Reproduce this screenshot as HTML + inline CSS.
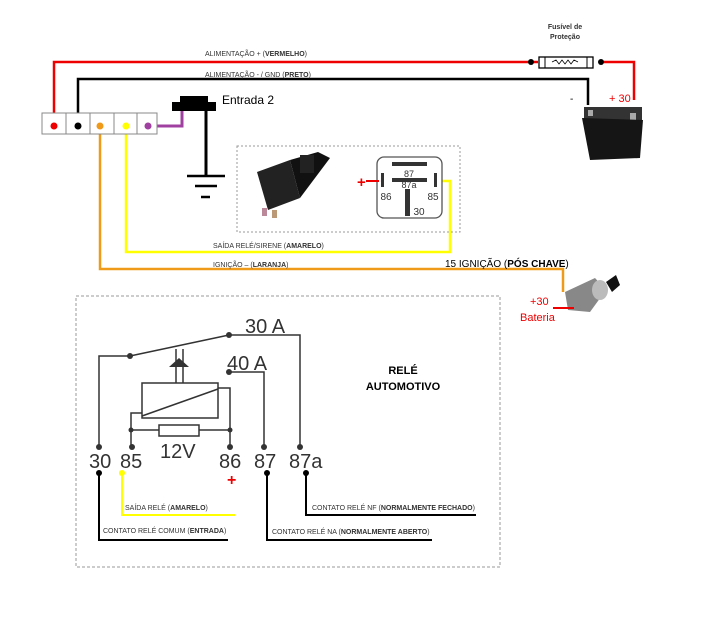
<!DOCTYPE html>
<html><head><meta charset="utf-8"><style>
html,body{margin:0;padding:0;background:#fff;}
svg{display:block;font-family:"Liberation Sans",sans-serif;}
</style></head><body>
<svg width="722" height="628" viewBox="0 0 722 628" xmlns="http://www.w3.org/2000/svg">
<!-- wires top -->
<polyline points="54,126 54,62 538,62" fill="none" stroke="#e00" stroke-width="2.5"/>
<polyline points="600,62 634,62 634,100" fill="none" stroke="#e00" stroke-width="2.5"/>
<polyline points="78,126 78,79 588,79 588,105" fill="none" stroke="#000" stroke-width="2.5"/>
<polyline points="126,126 126,252 450,252 450,181 440,181" fill="none" stroke="#ff0" stroke-width="2.5"/>
<polyline points="100,126 100,269 563,269 563,292" fill="none" stroke="#f09a1a" stroke-width="2.5"/>
<polyline points="148,126 182,126 182,108" fill="none" stroke="#a040a0" stroke-width="3"/>
<!-- fuse -->
<circle cx="531" cy="62" r="3" fill="#000"/><circle cx="601" cy="62" r="3" fill="#000"/>
<rect x="539" y="57" width="54" height="11" fill="#fff" stroke="#000" stroke-width="1.3"/>
<line x1="545" y1="57" x2="545" y2="68" stroke="#000"/><line x1="587" y1="57" x2="587" y2="68" stroke="#000"/>
<polyline points="552,62 556,60 559,64 562,60 565,64 568,60 571,64 574,60 578,62" fill="none" stroke="#000" stroke-width="0.8"/>
<text x="565" y="29" font-size="7" font-weight="bold" text-anchor="middle" fill="#333">Fusível de</text>
<text x="565" y="39" font-size="7" font-weight="bold" text-anchor="middle" fill="#333">Proteção</text>
<text x="205" y="56" font-size="7" fill="#333">ALIMENTAÇÃO + (<tspan font-weight="bold">VERMELHO</tspan>)</text>
<text x="205" y="77" font-size="7" fill="#333">ALIMENTAÇÃO - / GND (<tspan font-weight="bold">PRETO</tspan>)</text>
<!-- battery -->
<text x="570" y="102" font-size="10" fill="#000">-</text>
<text x="609" y="102" font-size="11" fill="#e00">+ 30</text>
<rect x="584" y="107" width="58" height="14" fill="#333"/>
<rect x="588" y="110" width="5" height="6" fill="#aaa"/><rect x="630" y="113" width="6" height="7" fill="#aaa"/>
<polygon points="582,118 643,120 640,158 590,160" fill="#151515"/>
<!-- connector block -->
<rect x="42" y="113" width="115" height="21" fill="#fff" stroke="#888"/>
<line x1="66" y1="113" x2="66" y2="134" stroke="#888"/><line x1="90" y1="113" x2="90" y2="134" stroke="#888"/>
<line x1="114" y1="113" x2="114" y2="134" stroke="#888"/><line x1="137" y1="113" x2="137" y2="134" stroke="#888"/>
<circle cx="54" cy="126" r="3.5" fill="#e00"/><circle cx="78" cy="126" r="3.5" fill="#000"/>
<circle cx="100" cy="126" r="3.5" fill="#f09a1a"/><circle cx="126" cy="126" r="3.5" fill="#ff0"/>
<circle cx="148" cy="126" r="3.5" fill="#a040a0"/>
<!-- Entrada 2 switch -->
<rect x="180" y="96" width="28" height="6" fill="#000"/>
<rect x="172" y="102" width="44" height="9" fill="#000"/>
<line x1="206" y1="111" x2="206" y2="175" stroke="#000" stroke-width="3"/>
<line x1="187" y1="176" x2="225" y2="176" stroke="#000" stroke-width="2.5"/>
<line x1="195" y1="186" x2="217" y2="186" stroke="#000" stroke-width="2.5"/>
<line x1="201" y1="197" x2="210" y2="197" stroke="#000" stroke-width="2.5"/>
<text x="222" y="104" font-size="12" fill="#000">Entrada 2</text>
<!-- dashed box top -->
<rect x="237" y="146" width="223" height="86" fill="none" stroke="#999" stroke-dasharray="2,2"/>
<polygon points="257,172 290,160 300,198 268,210" fill="#222"/>
<polygon points="290,160 318,152 330,158 300,198" fill="#111"/>
<rect x="300" y="155" width="14" height="18" fill="#222"/>
<rect x="262" y="208" width="5" height="8" fill="#b89"/><rect x="272" y="210" width="5" height="8" fill="#b97"/>
<rect x="377" y="157" width="65" height="61" rx="7" fill="#fff" stroke="#555" stroke-width="1.3"/>
<rect x="392" y="162" width="35" height="4" fill="#333"/>
<rect x="392" y="178" width="35" height="4" fill="#333"/>
<rect x="381" y="173" width="3" height="14" fill="#333"/>
<rect x="434" y="173" width="3" height="14" fill="#333"/>
<rect x="405" y="189" width="5" height="27" fill="#333"/>
<text x="409" y="177" font-size="9" text-anchor="middle" fill="#333">87</text>
<text x="409" y="188" font-size="9" text-anchor="middle" fill="#333">87a</text>
<text x="386" y="200" font-size="10" text-anchor="middle" fill="#333">86</text>
<text x="433" y="200" font-size="10" text-anchor="middle" fill="#333">85</text>
<text x="419" y="215" font-size="10" text-anchor="middle" fill="#333">30</text>
<line x1="366" y1="181" x2="379" y2="181" stroke="#e00" stroke-width="2"/>
<text x="357" y="187" font-size="15" font-weight="bold" fill="#e00">+</text>
<text x="213" y="248" font-size="7" fill="#333">SAÍDA RELÉ/SIRENE (<tspan font-weight="bold">AMARELO</tspan>)</text>
<text x="213" y="267" font-size="7" fill="#333">IGNIÇÃO – (<tspan font-weight="bold">LARANJA</tspan>)</text>
<text x="445" y="267" font-size="10" fill="#000">15 IGNIÇÃO (<tspan font-weight="bold">PÓS CHAVE</tspan>)</text>
<!-- ignition -->
<polygon points="565,292 595,278 606,290 590,312 568,310" fill="#888"/>
<ellipse cx="600" cy="290" rx="8" ry="10" fill="#bbb"/>
<polygon points="606,282 616,275 620,285 612,292" fill="#111"/>
<text x="530" y="305" font-size="11" fill="#e00">+30</text>
<text x="520" y="321" font-size="11" fill="#e00">Bateria</text>
<line x1="553" y1="308" x2="574" y2="308" stroke="#e00" stroke-width="2"/>
<!-- lower box -->
<rect x="76" y="296" width="424" height="271" fill="none" stroke="#999" stroke-dasharray="3,2"/>
<g stroke="#333" stroke-width="1.5" fill="none">
<polyline points="99,447 99,356 130,356"/>
<line x1="130" y1="356" x2="229" y2="335"/>
<polyline points="229,335 300,335 300,447"/>
<polyline points="229,372 264,372 264,447"/>
<rect x="142" y="383" width="76" height="35" fill="#fff"/>
<line x1="142" y1="416" x2="218" y2="389"/>
<polyline points="218,388 230,388 230,447"/>
<polyline points="142,413 131,413 131,447"/>
<line x1="131" y1="430" x2="230" y2="430"/>
<rect x="159" y="425" width="40" height="11" fill="#fff"/>
<line x1="176" y1="349" x2="176" y2="383"/><line x1="183" y1="349" x2="183" y2="383"/>
</g>
<polygon points="179,358 169,367 189,367" fill="#333"/>
<g fill="#333">
<circle cx="130" cy="356" r="3"/><circle cx="229" cy="335" r="3"/><circle cx="229" cy="372" r="3"/>
<circle cx="131" cy="430" r="2.5"/><circle cx="230" cy="430" r="2.5"/>
<circle cx="99" cy="447" r="3"/><circle cx="132" cy="447" r="3"/><circle cx="230" cy="447" r="3"/><circle cx="264" cy="447" r="3"/><circle cx="300" cy="447" r="3"/>
</g>
<g font-size="20" fill="#333">
<text x="245" y="333">30 A</text>
<text x="227" y="370">40 A</text>
<text x="160" y="458">12V</text>
<text x="89" y="468">30</text><text x="120" y="468">85</text><text x="219" y="468">86</text><text x="254" y="468">87</text><text x="289" y="468">87a</text>
</g>
<text x="227" y="485" font-size="16" font-weight="bold" fill="#e00">+</text>
<g stroke-width="2" fill="none">
<polyline points="99,473 99,540 228,540" stroke="#000"/>
<polyline points="122,473 122,515 235,515" stroke="#ff0"/>
<polyline points="267,473 267,540 432,540" stroke="#000"/>
<polyline points="306,473 306,515 476,515" stroke="#000"/>
</g>
<circle cx="99" cy="473" r="3" fill="#000"/><circle cx="122" cy="473" r="3" fill="#ff0"/>
<circle cx="267" cy="473" r="3" fill="#000"/><circle cx="306" cy="473" r="3" fill="#000"/>
<g font-size="7" fill="#333">
<text x="125" y="510">SAÍDA RELÉ (<tspan font-weight="bold">AMARELO</tspan>)</text>
<text x="103" y="533">CONTATO RELÉ COMUM (<tspan font-weight="bold">ENTRADA</tspan>)</text>
<text x="312" y="510">CONTATO RELÉ NF (<tspan font-weight="bold">NORMALMENTE FECHADO</tspan>)</text>
<text x="272" y="534">CONTATO RELÉ NA (<tspan font-weight="bold">NORMALMENTE ABERTO</tspan>)</text>
</g>
<text x="403" y="374" font-size="11" font-weight="bold" text-anchor="middle" fill="#000">RELÉ</text>
<text x="403" y="390" font-size="11" font-weight="bold" text-anchor="middle" fill="#000">AUTOMOTIVO</text>
</svg>
</body></html>
